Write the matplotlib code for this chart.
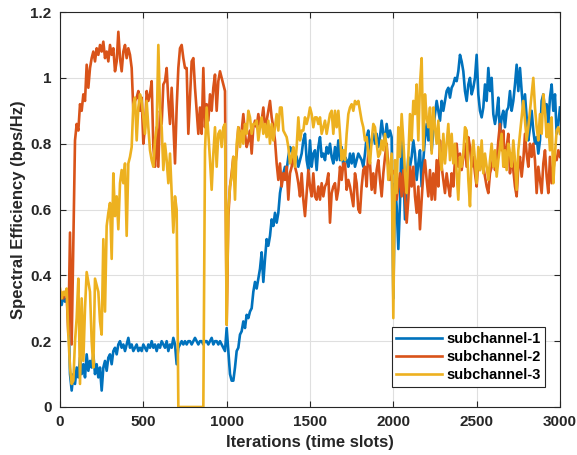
import numpy as np
import matplotlib
matplotlib.use("Agg")
import matplotlib.pyplot as plt
from matplotlib.ticker import FormatStrFormatter

plt.rcParams['font.family'] = ['Liberation Sans', 'DejaVu Sans']
plt.rcParams['font.weight'] = 'bold'

# sampled every 10 iterations, 0..3000
iters = np.arange(0, 3001, 10)

sub1 = [
    0.33, 0.31, 0.34, 0.32, 0.33, 0.30, 0.10, 0.05, 0.10, 0.07,
    0.12, 0.09, 0.15, 0.10, 0.13, 0.09, 0.16, 0.11, 0.14, 0.12,
    0.16, 0.10, 0.13, 0.09, 0.12, 0.05, 0.12, 0.14, 0.11, 0.15,
    0.16, 0.13, 0.17, 0.18, 0.16, 0.19, 0.20, 0.18, 0.19, 0.17,
    0.19, 0.21, 0.18, 0.19, 0.17, 0.18, 0.19, 0.17, 0.18, 0.17,
    0.19, 0.18, 0.17, 0.19, 0.18, 0.20, 0.18, 0.19, 0.17, 0.19,
    0.18, 0.20, 0.19, 0.18, 0.20, 0.17, 0.19, 0.18, 0.21, 0.19,
    0.13, 0.18, 0.19, 0.20, 0.19, 0.20, 0.19, 0.20, 0.20, 0.19,
    0.20, 0.21, 0.20, 0.19, 0.20, 0.20, 0.19, 0.20, 0.20, 0.19,
    0.20, 0.21, 0.19, 0.20, 0.20, 0.19, 0.20, 0.19, 0.18, 0.17,
    0.24, 0.17, 0.10, 0.08, 0.08, 0.12, 0.17, 0.18, 0.22, 0.23,
    0.26, 0.24, 0.28, 0.27, 0.29, 0.30, 0.35, 0.38, 0.36, 0.39,
    0.42, 0.47, 0.38, 0.45, 0.51, 0.49, 0.52, 0.57, 0.55, 0.59,
    0.56, 0.59, 0.65, 0.68, 0.71, 0.73, 0.72, 0.76, 0.79, 0.78,
    0.76, 0.77, 0.76, 0.73, 0.75, 0.77, 0.81, 0.83, 0.75, 0.72,
    0.81, 0.73, 0.77, 0.78, 0.72, 0.79, 0.82, 0.76, 0.77, 0.75,
    0.79, 0.77, 0.80, 0.76, 0.74, 0.79, 0.75, 0.81, 0.75, 0.79,
    0.73, 0.76, 0.75, 0.73, 0.77, 0.74, 0.77, 0.73, 0.75, 0.77,
    0.76, 0.75, 0.73, 0.77, 0.82, 0.84, 0.78, 0.81, 0.83, 0.80,
    0.83, 0.79, 0.82, 0.87, 0.83, 0.81, 0.86, 0.82, 0.84, 0.82,
    0.33, 0.68, 0.61, 0.48, 0.62, 0.83, 0.73, 0.57, 0.67, 0.76,
    0.73, 0.76, 0.81, 0.77, 0.69, 0.74, 0.78, 0.67, 0.75, 0.82,
    0.86, 0.81, 0.85, 0.78, 0.84, 0.89, 0.93, 0.90, 0.87, 0.93,
    0.90, 0.93, 0.96, 0.97, 0.94, 0.97, 0.98, 1.00, 0.99, 1.02,
    1.07, 1.05, 1.02, 0.96, 0.93, 0.98, 1.00, 0.95, 0.97, 1.00,
    1.07, 0.95, 0.90, 0.88, 0.91, 0.98, 0.93, 1.03, 0.96, 1.00,
    0.89, 0.86, 0.89, 0.94, 0.83, 0.88, 0.90, 0.85, 0.90, 0.91,
    0.96, 0.90, 0.93, 0.98, 1.04, 0.96, 1.03, 0.96, 0.90, 0.95,
    0.88, 0.81, 0.85, 0.90, 0.84, 0.80, 0.82, 0.77, 0.81, 0.93,
    0.95, 0.90, 0.92, 0.86, 0.94, 0.98, 0.90, 0.95, 0.83, 0.86,
    0.91,
]

sub2 = [
    0.35, 0.34, 0.33, 0.35, 0.34, 0.22, 0.53, 0.19, 0.51, 0.81,
    0.86, 0.84, 0.92, 0.90, 0.95, 0.93, 1.04, 0.97, 1.03, 1.06,
    1.08, 1.05, 1.09, 1.07, 1.10, 1.08, 1.11, 1.06, 1.08, 1.05,
    1.10, 1.07, 1.09, 1.02, 1.05, 1.14, 1.06, 1.02, 1.08, 1.10,
    1.06, 1.09, 1.07, 1.03, 0.90, 0.93, 0.94, 0.96, 0.90, 0.94,
    0.80, 0.85, 0.96, 0.93, 0.95, 0.99, 0.79, 0.73, 0.85, 0.73,
    0.90, 0.86, 0.98, 0.99, 1.03, 0.93, 0.86, 0.97, 0.86, 0.74,
    0.91, 1.03, 1.09, 1.10, 1.06, 1.03, 1.03, 0.83, 0.94, 1.05,
    1.06, 0.97, 0.90, 0.83, 0.91, 0.83, 1.03, 0.85, 0.92, 0.87,
    0.95, 0.90, 0.97, 1.01, 0.90, 0.99, 1.02, 1.00, 0.98, 0.96,
    0.25, 0.58, 0.67, 0.71, 0.76, 0.73, 0.77, 0.85, 0.81, 0.84,
    0.89, 0.83, 0.79, 0.81, 0.84, 0.77, 0.85, 0.87, 0.85, 0.89,
    0.85, 0.87, 0.91, 0.85, 0.87, 0.90, 0.93, 0.88, 0.85, 0.81,
    0.74, 0.69, 0.74, 0.67, 0.71, 0.69, 0.73, 0.63, 0.71, 0.73,
    0.77, 0.73, 0.71, 0.68, 0.64, 0.71, 0.63, 0.58, 0.65, 0.72,
    0.67, 0.64, 0.71, 0.64, 0.63, 0.67, 0.63, 0.68, 0.64, 0.67,
    0.68, 0.71, 0.56, 0.65, 0.67, 0.68, 0.63, 0.66, 0.73, 0.69,
    0.74, 0.74, 0.66, 0.69, 0.67, 0.64, 0.61, 0.71, 0.68, 0.60,
    0.59, 0.67, 0.72, 0.73, 0.67, 0.78, 0.74, 0.66, 0.71, 0.65,
    0.72, 0.75, 0.69, 0.64, 0.71, 0.76, 0.80, 0.73, 0.69, 0.72,
    0.71, 0.72, 0.63, 0.67, 0.71, 0.64, 0.72, 0.64, 0.56, 0.63,
    0.73, 0.67, 0.73, 0.64, 0.59, 0.67, 0.54, 0.63, 0.71, 0.75,
    0.69, 0.64, 0.72, 0.63, 0.71, 0.63, 0.75, 0.67, 0.81, 0.73,
    0.69, 0.65, 0.71, 0.67, 0.64, 0.71, 0.67, 0.75, 0.80, 0.73,
    0.77, 0.72, 0.76, 0.80, 0.73, 0.82, 0.79, 0.73, 0.76, 0.71,
    0.67, 0.75, 0.72, 0.76, 0.73, 0.70, 0.67, 0.65, 0.71, 0.73,
    0.76, 0.72, 0.74, 0.81, 0.86, 0.78, 0.84, 0.73, 0.79, 0.83,
    0.71, 0.77, 0.72, 0.67, 0.64, 0.73, 0.76, 0.70, 0.75, 0.83,
    0.77, 0.73, 0.80, 0.76, 0.80, 0.75, 0.65, 0.73, 0.69, 0.65,
    0.74, 0.78, 0.70, 0.65, 0.76, 0.68, 0.72, 0.76, 0.75, 0.78,
    0.76,
]

sub3 = [
    0.36, 0.33, 0.35, 0.34, 0.36, 0.22, 0.12, 0.07, 0.08, 0.20,
    0.27, 0.39, 0.07, 0.33, 0.14, 0.30, 0.41, 0.38, 0.35, 0.20,
    0.12, 0.39, 0.37, 0.35, 0.26, 0.22, 0.51, 0.29, 0.55, 0.59,
    0.62, 0.45, 0.71, 0.58, 0.64, 0.54, 0.68, 0.72, 0.68, 0.74,
    0.52, 0.74, 0.76, 0.79, 0.92, 0.94, 0.81, 0.91, 0.95, 0.93,
    0.88, 0.83, 0.93, 0.85, 0.78, 0.75, 0.73, 0.81, 0.85, 1.10,
    0.91, 0.85, 0.72, 0.80, 0.75, 0.68, 0.77, 0.65, 0.53, 0.64,
    0.60, 0.00, 0.00, 0.00, 0.00, 0.00, 0.00, 0.00, 0.00, 0.00,
    0.00, 0.00, 0.00, 0.00, 0.00, 0.00, 0.00, 0.78, 0.91, 0.83,
    0.75, 0.66, 0.77, 0.85, 0.73, 0.83, 0.84, 0.79, 0.85, 0.86,
    0.25, 0.60, 0.67, 0.70, 0.76, 0.63, 0.80, 0.85, 0.79, 0.84,
    0.80, 0.86, 0.83, 0.90, 0.88, 0.83, 0.86, 0.86, 0.87, 0.81,
    0.85, 0.88, 0.83, 0.86, 0.82, 0.87, 0.80, 0.86, 0.81, 0.85,
    0.89, 0.84, 0.91, 0.91, 0.84, 0.83, 0.82, 0.79, 0.74, 0.76,
    0.79, 0.73, 0.79, 0.88, 0.81, 0.84, 0.84, 0.88, 0.86, 0.88,
    0.91, 0.89, 0.85, 0.88, 0.88, 0.86, 0.88, 0.83, 0.85, 0.87,
    0.83, 0.86, 0.89, 0.90, 0.83, 0.90, 0.85, 0.90, 0.83, 0.75,
    0.78, 0.75, 0.83, 0.89, 0.91, 0.92, 0.90, 0.93, 0.92, 0.93,
    0.90, 0.87, 0.85, 0.81, 0.82, 0.77, 0.74, 0.81, 0.86, 0.85,
    0.80, 0.76, 0.77, 0.81, 0.78, 0.83, 0.79, 0.69, 0.73, 0.77,
    0.27, 0.75, 0.65, 0.85, 0.76, 0.89, 0.81, 0.71, 0.65, 0.76,
    0.89, 0.81, 0.93, 0.89, 0.98, 0.81, 0.98, 1.06, 0.78, 0.95,
    0.88, 0.85, 0.91, 0.77, 0.91, 0.85, 0.80, 0.87, 0.76, 0.72,
    0.83, 0.74, 0.80, 0.86, 0.75, 0.83, 0.74, 0.80, 0.71, 0.63,
    0.76, 0.73, 0.77, 0.85, 0.84, 0.69, 0.61, 0.76, 0.81, 0.75,
    0.68, 0.79, 0.72, 0.81, 0.71, 0.77, 0.73, 0.69, 0.75, 0.80,
    0.73, 0.78, 0.70, 0.75, 0.79, 0.83, 0.73, 0.78, 0.72, 0.80,
    0.77, 0.73, 0.81, 0.75, 0.66, 0.78, 0.83, 0.88, 0.93, 0.87,
    0.81, 0.85, 0.90, 0.95, 1.00, 0.91, 0.85, 0.81, 0.89, 0.83,
    0.95, 0.90, 0.82, 0.86, 0.78, 0.88, 0.68, 0.77, 0.84, 0.85,
    0.83,
]

labels = ['subchannel-1', 'subchannel-2', 'subchannel-3']
colors = ['#0072BD', '#D95319', '#EDB120']

fig = plt.figure(figsize=(5.77, 4.55), dpi=100)
ax = fig.add_axes([0.104, 0.1055, 0.8665, 0.868])

for vals, lab, c in zip([sub1, sub2, sub3], labels, colors):
    ax.plot(iters, vals, color=c, lw=1.9, label=lab)

ax.set_xlim(0, 3000)
ax.set_ylim(0, 1.2)
ax.set_xticks(np.arange(0, 3001, 500))
ax.set_yticks(np.arange(0, 1.21, 0.2))
ax.yaxis.set_major_formatter(FormatStrFormatter('%g'))
ax.grid(True, color='#dfdfdf', lw=0.8)
ax.set_axisbelow(True)
ax.tick_params(direction='in', top=True, right=True, length=4,
               labelsize=11, colors='#262626', width=0.8, pad=6)
for s in ax.spines.values():
    s.set_color('#262626')
    s.set_linewidth(0.8)

ax.set_xlabel('Iterations (time slots)', fontsize=12, fontweight='bold',
              color='#262626', labelpad=4)
ax.set_ylabel('Spectral Efficiency (bps/Hz)', fontsize=12, fontweight='bold',
              color='#262626', labelpad=3)

leg = ax.legend(loc='lower right', bbox_to_anchor=(0.971, 0.051),
                borderaxespad=0, fancybox=False, framealpha=1,
                edgecolor='#262626', fontsize=10.5, handlelength=3.1,
                borderpad=0.3, labelspacing=0.3, handletextpad=0.35)
leg.get_frame().set_linewidth(0.8)

fig.savefig('out.png', dpi=100)
